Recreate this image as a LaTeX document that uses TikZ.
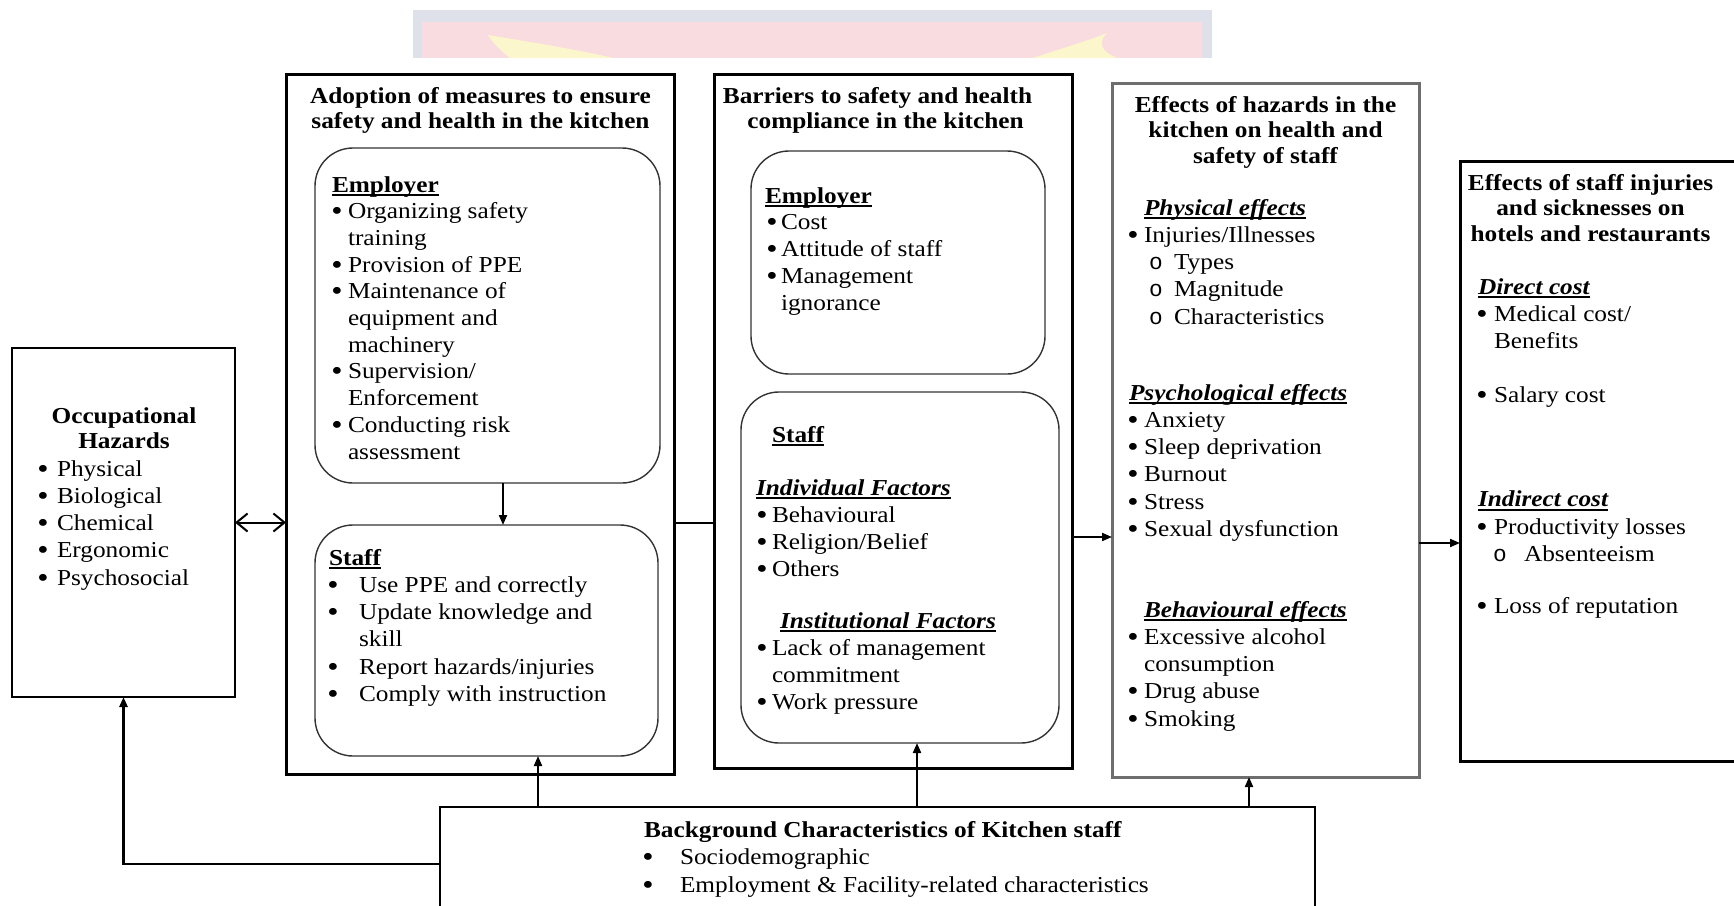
\documentclass[tikz,border=0pt]{standalone}
\usepackage{fontspec}
\setmainfont{Liberation Serif}[FakeStretch=1.11]
\newfontfamily\courfam{Liberation Mono}
\usetikzlibrary{arrows.meta}
\definecolor{wmpink}{HTML}{F9DCDF}
\definecolor{wmblue}{HTML}{DEE0EA}
\definecolor{wmyel}{HTML}{FCF6CC}
\definecolor{rgray}{HTML}{333333}
\definecolor{egray}{HTML}{6E6E6E}
\newcommand\fs{\fontsize{22.8pt}{27.3pt}\selectfont}
\newcommand\li[1]{\hbox{#1}}
\newcommand\cen[1]{\hbox to 0pt{\hss#1\hss}}
\newcommand\bdot{{\fontsize{29pt}{0pt}\selectfont\raisebox{-2pt}{\textbullet}}}
\newcommand\bul[1]{\llap{\hbox to #1{\hss\bdot\hss}}}
\newcommand\obul[1]{\llap{\hbox to #1{\hss{\courfam o}\hss}}}
\newcommand\myul[1]{\setbox0\hbox{#1}\rlap{\vrule width\wd0 height -2.3pt depth 3.6pt}\box0}
\newcommand\bi[1]{\myul{\bfseries\itshape #1}}
\begin{document}
\begin{tikzpicture}[x=1pt,y=-1pt,
  txt/.style={anchor=base west,inner sep=0pt,outer sep=0pt,font=\fs},
  bx/.style={draw,inner sep=0pt,outer sep=0pt,anchor=north west},
  thinbox/.style={bx,line width=1.5pt},
  thickbox/.style={bx,line width=3pt},
  rbox/.style={bx,draw=rgray,line width=1.4pt,rounded corners=38pt},
  arr/.style={line width=2pt,-{Triangle[length=10pt,width=8pt]}},
  con/.style={line width=2pt},
  dbl/.style={line width=2pt,{Straight Barb[length=11pt,width=18pt]}-{Straight Barb[length=11pt,width=18pt]}}]
\useasboundingbox (0,0) rectangle (1734,905);
\fill[white] (0,0) rectangle (1734,905);
% watermark
\fill[wmblue] (413,10) rectangle (1212,58);
\fill[wmpink] (422,22) rectangle (1202,58);
\fill[wmyel] (488,35) .. controls (530,42) and (580,50) .. (613,58) -- (510,58) .. controls (500,50) and (492,42) .. cycle;
\fill[wmyel] (1107,33) .. controls (1085,42) and (1050,52) .. (1033,58) -- (1118,58) .. controls (1100,52) and (1098,42) .. cycle;

% boxes
\node[thinbox,minimum width=223pt,minimum height=349pt] (occ) at (12,348) {};
\node[thickbox,minimum width=388pt,minimum height=700pt] (adopt) at (286,74) {};
\node[rbox,minimum width=345pt,minimum height=335pt] (emp1) at (315,148) {};
\node[rbox,minimum width=343pt,minimum height=231pt] (staff1) at (315,525) {};
\node[thickbox,minimum width=358pt,minimum height=694pt] (barr) at (714,74) {};
\node[rbox,minimum width=294pt,minimum height=223pt] (emp2) at (751,151) {};
\node[rbox,minimum width=318pt,minimum height=351pt] (staff2) at (741,392) {};
\node[bx,draw=egray,line width=3pt,minimum width=307pt,minimum height=694pt] (eff) at (1112,83) {};
\node[thickbox,minimum width=320pt,minimum height=600pt] (last) at (1460,161) {};
\node[thinbox,minimum width=875pt,minimum height=130pt] (bg) at (440,807) {};

% occupational hazards
\node[txt] (occh) at (123.5,423) {\vtop{\baselineskip=25pt\cen{\bfseries Occupational}\cen{\bfseries Hazards}}};
\node[txt] (occl) at (57,476) {\vtop{\li{\bul{28pt}Physical}\li{\bul{28pt}Biological}\li{\bul{28pt}Chemical}\li{\bul{28pt}Ergonomic}\li{\bul{28pt}Psychosocial}}};

% adoption
\node[txt] (adh) at (480,103) {\vtop{\baselineskip=25pt\cen{\bfseries Adoption of measures to ensure}\cen{\bfseries safety and health in the kitchen}}};
\node[txt] (ade) at (348,192) {\vtop{\baselineskip=26.7pt
 \li{\hskip-16pt\myul{\bfseries Employer}}
 \li{\bul{22pt}Organizing safety}
 \li{training}
 \li{\bul{22pt}Provision of PPE}
 \li{\bul{22pt}Maintenance of}
 \li{equipment and}
 \li{machinery}
 \li{\bul{22pt}Supervision/}
 \li{Enforcement}
 \li{\bul{22pt}Conducting risk}
 \li{assessment}}};
\node[txt] (ads) at (359,565) {\vtop{
 \li{\hskip-30pt\myul{\bfseries Staff}}
 \li{\bul{52pt}Use PPE and correctly}
 \li{\bul{52pt}Update knowledge and}
 \li{skill}
 \li{\bul{52pt}Report hazards/injuries}
 \li{\bul{52pt}Comply with instruction}}};

% barriers
\node[txt] (bah) at (877,103) {\vtop{\baselineskip=25pt\cen{\bfseries Barriers to safety and health}\cen{\hskip16pt\bfseries compliance in the kitchen}}};
\node[txt] (bae) at (781,203) {\vtop{\baselineskip=26.8pt
 \li{\hskip-16pt\myul{\bfseries Employer}}
 \li{\bul{18pt}Cost}
 \li{\bul{18pt}Attitude of staff}
 \li{\bul{18pt}Management}
 \li{ignorance}}};
\node[txt] (bas) at (772,442) {\vtop{
 \li{\myul{\bfseries Staff}}
 \vskip25.7pt
 \li{\hskip-16pt\bi{Individual Factors}}
 \li{\bul{20pt}Behavioural}
 \li{\bul{20pt}Religion/Belief}
 \li{\bul{20pt}Others}
 \vskip23.8pt
 \li{\hskip8pt\bi{Institutional Factors}}
 \li{\bul{20pt}Lack of management}
 \li{commitment}
 \li{\bul{20pt}Work pressure}}};

% effects of hazards
\node[txt] (efh) at (1265,112) {\vtop{\baselineskip=25.5pt\cen{\bfseries Effects of hazards in the}\cen{\bfseries kitchen on health and}\cen{\bfseries safety of staff}}};
\node[txt] (efl) at (1144,215) {\vtop{
 \li{\bi{Physical effects}}
 \li{\bul{22pt}Injuries/Illnesses}
 \li{\hskip30pt\obul{36pt}Types}
 \li{\hskip30pt\obul{36pt}Magnitude}
 \li{\hskip30pt\obul{36pt}Characteristics}
 \vskip48.5pt
 \li{\hskip-15pt\bi{Psychological effects}}
 \li{\bul{22pt}Anxiety}
 \li{\bul{22pt}Sleep deprivation}
 \li{\bul{22pt}Burnout}
 \li{\bul{22pt}Stress}
 \li{\bul{22pt}Sexual dysfunction}
 \vskip53.2pt
 \li{\bi{Behavioural effects}}
 \li{\bul{22pt}Excessive alcohol}
 \li{consumption}
 \li{\bul{22pt}Drug abuse}
 \li{\bul{22pt}Smoking}}};

% effects on hotels
\node[txt] (lah) at (1590,190) {\vtop{\baselineskip=25.5pt\cen{\bfseries Effects of staff injuries}\cen{\bfseries and sicknesses on}\cen{\bfseries hotels and restaurants}}};
\node[txt] (lal) at (1494,294) {\vtop{
 \li{\hskip-16pt\bi{Direct cost}}
 \li{\bul{24pt}Medical cost/}
 \li{Benefits}
 \vskip27pt
 \li{\bul{24pt}Salary cost}
 \vskip76.7pt
 \li{\hskip-16pt\bi{Indirect cost}}
 \li{\bul{24pt}Productivity losses}
 \li{\hskip30pt\obul{48pt}Absenteeism}
 \vskip25pt
 \li{\bul{24pt}Loss of reputation}}};

% background
\node[txt] (bgt) at (680,837) {\vtop{\baselineskip=27.5pt
 \li{\hskip-36pt\bfseries Background Characteristics of Kitchen staff}
 \li{\bul{64pt}Sociodemographic}
 \li{\bul{64pt}Employment \& Facility-related characteristics}}};

% connectors
\coordinate (ya) at (0,523);
\coordinate (yb) at (0,537);
\coordinate (yc) at (0,543);
\coordinate (yd) at (0,864);
\coordinate (xa) at (503,0);
\coordinate (xb) at (538,0);
\coordinate (xc) at (917,0);
\coordinate (xd) at (1249,0);
\draw[dbl] (occ.east) -- (occ.east -| adopt.west);
\draw[arr] (emp1.south -| xa) -- (staff1.north -| xa);
\draw[con] (adopt.east |- ya) -- (barr.west |- ya);
\draw[arr] (barr.east |- yb) -- (eff.west |- yb);
\draw[arr] (eff.east |- yc) -- (last.west |- yc);
\draw[arr] (bg.north -| xb) -- (staff1.south -| xb);
\draw[arr] (bg.north -| xc) -- (staff2.south -| xc);
\draw[arr] (bg.north -| xd) -- (eff.south -| xd);
\draw[arr,line width=2.5pt] (bg.west |- yd) -| (occ.south);
\end{tikzpicture}
\end{document}
